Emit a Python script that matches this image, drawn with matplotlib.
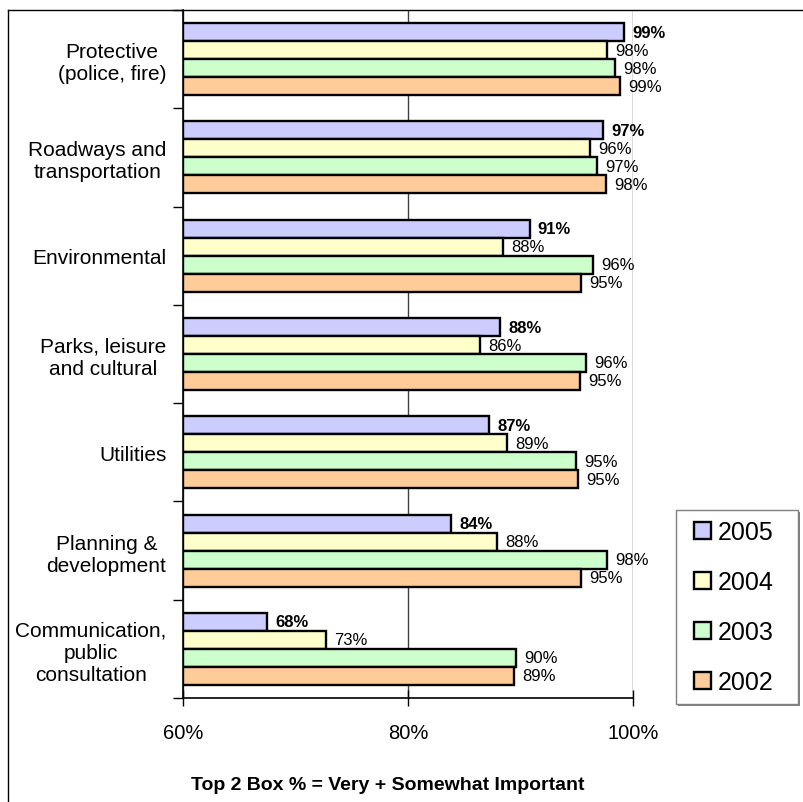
import matplotlib
matplotlib.use("Agg")
import matplotlib.pyplot as plt
from matplotlib.patches import Rectangle
from matplotlib.lines import Line2D
from matplotlib.container import BarContainer
from matplotlib.legend_handler import HandlerPatch, update_from_first_child
import numpy as np

plt.rcParams['font.family'] = ['Liberation Sans', 'DejaVu Sans']

categories = ["Protective\n(police, fire)", "Roadways and\ntransportation", "Environmental",
              "Parks, leisure\nand cultural", "Utilities", "Planning &\ndevelopment",
              "Communication,\npublic\nconsultation"]
years = ["2005", "2004", "2003", "2002"]
v2005 = [99.2, 97.3, 90.8, 88.2, 87.2, 83.8, 67.5]
v2004 = [97.7, 96.2, 88.4, 86.4, 88.8, 87.9, 72.7]
v2003 = [98.4, 96.8, 96.4, 95.8, 94.9, 97.7, 89.6]
v2002 = [98.8, 97.6, 95.4, 95.3, 95.1, 95.4, 89.4]
labels2005 = ["99%", "97%", "91%", "88%", "87%", "84%", "68%"]
labels2004 = ["98%", "96%", "88%", "86%", "89%", "88%", "73%"]
labels2003 = ["98%", "97%", "96%", "96%", "95%", "98%", "90%"]
labels2002 = ["99%", "98%", "95%", "95%", "95%", "95%", "89%"]
xticks = [60, 80, 100]
xticklabels = ["60%", "80%", "100%"]
title = "Top 2 Box % = Very + Somewhat Important"

series = [v2005, v2004, v2003, v2002]
series_labels = [labels2005, labels2004, labels2003, labels2002]
colors = ["#CCCCFF", "#FFFFCC", "#CCFFCC", "#FFCC99"]

W, H = 804, 803
fig = plt.figure(figsize=(W / 100, H / 100), dpi=100)
ax = fig.add_axes([183 / W, 1 - 699 / H, (633 - 183) / W, (699 - 11) / H])

n = len(categories)
centers = np.arange(n) + 0.5
bh = 18 / 98.3
containers = []
for k, (vals, col, yr) in enumerate(zip(series, colors, years)):
    y = centers + (k - 1.5) * bh
    vals = np.array(vals)
    c = ax.barh(y, vals - 60, left=60, height=bh, color=col, edgecolor="black",
                linewidth=1.7, label=yr, zorder=3)
    containers.append(c)
    for yy, vv, tt in zip(y, vals, series_labels[k]):
        ax.annotate(tt, (vv, yy), xytext=(6, 0), textcoords="offset points",
                    ha="left", va="center", fontsize=12,
                    fontweight="bold" if k == 0 else "normal", zorder=4)

ax.set_xlim(60, 100)
ax.set_ylim(n, 0)
ax.set_xticks(xticks)
ax.set_xticklabels(xticklabels, fontsize=14.5)
ax.tick_params(axis="x", direction="inout", length=12, width=1, pad=12)
ax.set_yticks(centers)
ax.set_yticklabels(categories, fontsize=15, multialignment="center")
ax.tick_params(axis="y", which="major", length=0, pad=12)
ax.set_yticks(np.arange(n + 1), minor=True)
ax.tick_params(axis="y", which="minor", direction="out", length=7, width=1)
for s in ["top", "right"]:
    ax.spines[s].set_visible(False)
for s in ["left", "bottom"]:
    ax.spines[s].set_linewidth(1.2)
ax.xaxis.grid(True, color="#404040", linewidth=1, zorder=0)
ax.set_axisbelow(True)

# outer chart frame
fig.add_artist(Line2D([8 / W, 8 / W], [0, 1 - 11 / H], color="black", linewidth=1,
                      transform=fig.transFigure))
fig.add_artist(Line2D([8 / W, 1], [1 - 11 / H, 1 - 11 / H], color="black", linewidth=1,
                      transform=fig.transFigure))


def square_patch(legend, orig_handle, xdescent, ydescent, width, height, fontsize):
    return Rectangle((-xdescent + width - height, -ydescent), height, height)


leg = fig.legend(handles=containers, labels=years, loc="upper left",
                 bbox_to_anchor=(676 / W, 1 - 705 / H, 122 / W, 194 / H),
                 mode="expand", borderaxespad=0,
                 fontsize=18, frameon=True, fancybox=False,
                 shadow={"ox": 1.5, "oy": -1.5, "facecolor": "#808080",
                         "edgecolor": "none", "alpha": 1},
                 handlelength=1.0, handleheight=0.65, handletextpad=0.28,
                 labelspacing=1.04, borderpad=0.4,
                 handler_map={BarContainer: HandlerPatch(patch_func=square_patch,
                                                         update_func=update_from_first_child)})
for h in leg.legend_handles:
    h.set_linewidth(1.7)
leg.get_frame().set_edgecolor("#808080")
leg.get_frame().set_linewidth(1.0)

fig.text(388 / W, 1 - 786 / H, title, ha="center", va="center",
         fontsize=14, fontweight="bold")

fig.savefig("out.png", dpi=100)
